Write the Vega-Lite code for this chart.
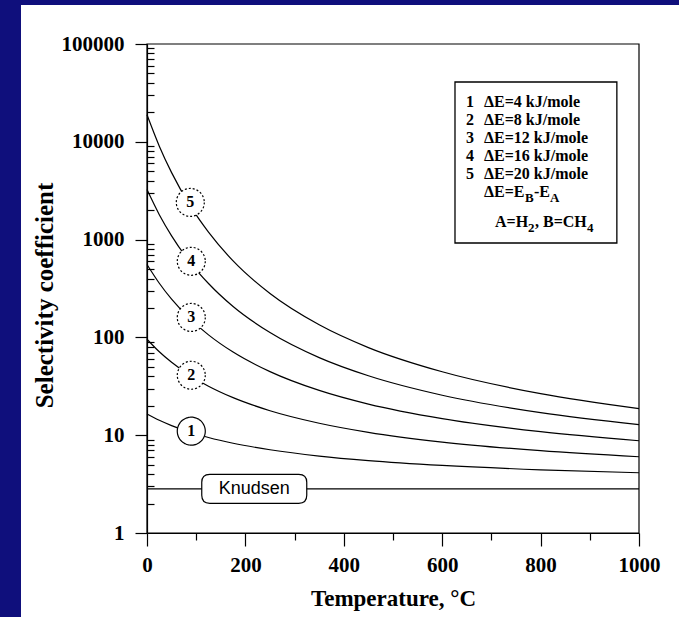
{
  "$schema": "https://vega.github.io/schema/vega-lite/v6.json",
  "width": 658,
  "height": 612,
  "autosize": "none",
  "padding": {"left": 21, "top": 5, "right": 0, "bottom": 0},
  "background": "#0f0f7c",
  "config": {
    "view": {"fill": "white", "stroke": null},
    "axis": {"domainColor": "black", "tickColor": "black", "domainWidth": 1.2, "tickWidth": 1.2, "labelColor": "black", "titleColor": "black", "grid": false, "labelFlush": false, "labelOverlap": false}
  },
  "datasets": {
    "frame": [{"x1": 0, "x2": 1000, "y1": 1, "y2": 100000}],
    "curves": [
      {"c": "1", "T": 0, "S": 16.46}, {"c": "1", "T": 25, "S": 14.2}, {"c": "1", "T": 50, "S": 12.54}, {"c": "1", "T": 88, "S": 10.72}, {"c": "1", "T": 125, "S": 9.47}, {"c": "1", "T": 175, "S": 8.27}, {"c": "1", "T": 250, "S": 7.1}, {"c": "1", "T": 350, "S": 6.12}, {"c": "1", "T": 450, "S": 5.5}, {"c": "1", "T": 600, "S": 4.91}, {"c": "1", "T": 800, "S": 4.43}, {"c": "1", "T": 1000, "S": 4.13},
      {"c": "2", "T": 0, "S": 95.8}, {"c": "2", "T": 25, "S": 71.3}, {"c": "2", "T": 50, "S": 55.6}, {"c": "2", "T": 88, "S": 40.6}, {"c": "2", "T": 125, "S": 31.7}, {"c": "2", "T": 175, "S": 24.2}, {"c": "2", "T": 250, "S": 17.8}, {"c": "2", "T": 350, "S": 13.26}, {"c": "2", "T": 450, "S": 10.7}, {"c": "2", "T": 600, "S": 8.51}, {"c": "2", "T": 800, "S": 6.94}, {"c": "2", "T": 1000, "S": 6.02},
      {"c": "3", "T": 0, "S": 557}, {"c": "3", "T": 25, "S": 358}, {"c": "3", "T": 50, "S": 246}, {"c": "3", "T": 88, "S": 153.9}, {"c": "3", "T": 125, "S": 106.2}, {"c": "3", "T": 175, "S": 70.8}, {"c": "3", "T": 250, "S": 44.7}, {"c": "3", "T": 350, "S": 28.7}, {"c": "3", "T": 450, "S": 20.8}, {"c": "3", "T": 600, "S": 14.77}, {"c": "3", "T": 800, "S": 10.86}, {"c": "3", "T": 1000, "S": 8.78},
      {"c": "4", "T": 0, "S": 3244}, {"c": "4", "T": 25, "S": 1797}, {"c": "4", "T": 50, "S": 1092}, {"c": "4", "T": 88, "S": 583}, {"c": "4", "T": 125, "S": 356}, {"c": "4", "T": 175, "S": 207}, {"c": "4", "T": 250, "S": 112.1}, {"c": "4", "T": 350, "S": 62.1}, {"c": "4", "T": 450, "S": 40.5}, {"c": "4", "T": 600, "S": 25.6}, {"c": "4", "T": 800, "S": 17.0}, {"c": "4", "T": 1000, "S": 12.82},
      {"c": "5", "T": 0, "S": 18880}, {"c": "5", "T": 25, "S": 9024}, {"c": "5", "T": 50, "S": 4840}, {"c": "5", "T": 88, "S": 2210}, {"c": "5", "T": 125, "S": 1192}, {"c": "5", "T": 175, "S": 605}, {"c": "5", "T": 250, "S": 281}, {"c": "5", "T": 350, "S": 134.5}, {"c": "5", "T": 450, "S": 78.7}, {"c": "5", "T": 600, "S": 44.5}, {"c": "5", "T": 800, "S": 26.6}, {"c": "5", "T": 1000, "S": 18.7},
      {"c": "K", "T": 0, "S": 2.83}, {"c": "K", "T": 1000, "S": 2.83}
    ],
    "labels": [
      {"n": "1", "T": 90, "S": 11, "line": "solid"},
      {"n": "2", "T": 90, "S": 41, "line": "dotted"},
      {"n": "3", "T": 90, "S": 160, "line": "dotted"},
      {"n": "4", "T": 90, "S": 600, "line": "dotted"},
      {"n": "5", "T": 88, "S": 2400, "line": "dotted"}
    ],
    "knudsen": [{"T": 218, "S": 2.83, "t": "Knudsen"}],
    "legendbox": [{"x1": 626, "x2": 955, "y1": 40880, "y2": 923}],
    "legendtext": [
      {"x": 648.4, "y": 25530, "t": "1", "k": "main"},
      {"x": 685, "y": 25530, "t": "ΔE=4 kJ/mole", "k": "main"},
      {"x": 648.4, "y": 16706, "t": "2", "k": "main"},
      {"x": 685, "y": 16706, "t": "ΔE=8 kJ/mole", "k": "main"},
      {"x": 648.4, "y": 10937, "t": "3", "k": "main"},
      {"x": 685, "y": 10937, "t": "ΔE=12 kJ/mole", "k": "main"},
      {"x": 648.4, "y": 7159, "t": "4", "k": "main"},
      {"x": 685, "y": 7159, "t": "ΔE=16 kJ/mole", "k": "main"},
      {"x": 648.4, "y": 4686, "t": "5", "k": "main"},
      {"x": 685, "y": 4686, "t": "ΔE=20 kJ/mole", "k": "main"},
      {"x": 685, "y": 3067, "t": "ΔE=E", "k": "main"},
      {"x": 768.3, "y": 2663, "t": "B", "k": "sub"},
      {"x": 786.6, "y": 3067, "t": "-E", "k": "main"},
      {"x": 819.1, "y": 2663, "t": "A", "k": "sub"},
      {"x": 707.3, "y": 1514, "t": "A=H", "k": "main"},
      {"x": 774.4, "y": 1314, "t": "2", "k": "sub"},
      {"x": 788.6, "y": 1514, "t": ", B=CH", "k": "main"},
      {"x": 894.3, "y": 1314, "t": "4", "k": "sub"}
    ]
  },
  "layer": [
    {
      "data": {"name": "curves"},
      "mark": {"type": "line", "color": "black", "strokeWidth": 1.2, "interpolate": "monotone"},
      "encoding": {
        "x": {"field": "T", "type": "quantitative", "scale": {"domain": [0, 1000], "range": [126, 618], "nice": false, "zero": false},
          "axis": {"orient": "bottom", "offset": -84, "values": [0, 200, 400, 600, 800, 1000], "format": "d", "tickSize": 13, "labelPadding": 8, "labelFont": "Liberation Serif", "labelFontWeight": "bold", "labelFontSize": 21, "title": "Temperature, °C", "titleFont": "Liberation Serif", "titleFontWeight": "bold", "titleFontSize": 23, "titlePadding": 12}},
        "y": {"field": "S", "type": "quantitative", "scale": {"type": "log", "domain": [1, 100000], "range": [528, 39], "nice": false},
          "axis": {"orient": "left", "offset": -126, "values": [1, 10, 100, 1000, 10000, 100000], "format": "d", "tickSize": 12, "labelPadding": 11, "labelFont": "Liberation Serif", "labelFontWeight": "bold", "labelFontSize": 21, "title": "Selectivity coefficient", "titleFont": "Liberation Serif", "titleFontWeight": "bold", "titleFontSize": 25, "titlePadding": 4, "titleY": 290}},
        "detail": {"field": "c"}
      }
    },
    {
      "data": {"name": "frame"},
      "mark": {"type": "rect", "fill": null, "fillOpacity": 0, "stroke": "black", "strokeWidth": 1.2},
      "encoding": {
        "x": {"field": "x1", "type": "quantitative", "axis": null},
        "x2": {"field": "x2"},
        "y": {"field": "y1", "type": "quantitative", "axis": null},
        "y2": {"field": "y2"}
      }
    },
    {
      "data": {"name": "labels"},
      "mark": {"type": "point", "shape": "circle", "filled": true, "fill": "white", "stroke": "black", "strokeWidth": 1.2, "size": 784, "opacity": 1},
      "encoding": {
        "x": {"field": "T", "type": "quantitative", "scale": {"domain": [0, 1000], "range": [126, 618], "nice": false, "zero": false},
          "axis": {"orient": "bottom", "offset": -84, "values": [100, 300, 500, 700, 900], "tickSize": 7, "labels": false, "domain": false, "title": null}},
        "y": {"field": "S", "type": "quantitative", "scale": {"type": "log", "domain": [1, 100000], "range": [528, 39], "nice": false},
          "axis": {"orient": "left", "offset": -126, "values": [2, 3, 4, 5, 6, 7, 8, 9, 20, 30, 40, 50, 60, 70, 80, 90, 200, 300, 400, 500, 600, 700, 800, 900, 2000, 3000, 4000, 5000, 6000, 7000, 8000, 9000, 20000, 30000, 40000, 50000, 60000, 70000, 80000, 90000], "tickSize": -7, "labels": false, "domain": false, "title": null}},
        "strokeDash": {"field": "line", "type": "nominal", "scale": {"domain": ["solid", "dotted"], "range": [[1, 0], [2, 2]]}, "legend": null}
      }
    },
    {
      "data": {"name": "labels"},
      "mark": {"type": "text", "font": "Liberation Serif", "fontWeight": "bold", "fontSize": 16, "color": "black", "baseline": "middle", "align": "center"},
      "encoding": {
        "x": {"field": "T", "type": "quantitative", "axis": null},
        "y": {"field": "S", "type": "quantitative", "axis": null},
        "text": {"field": "n"}
      }
    },
    {
      "data": {"name": "knudsen"},
      "mark": {"type": "point", "shape": "M-1.483,-0.483 H1.483 Q1.75,-0.483 1.75,-0.216 V0.216 Q1.75,0.483 1.483,0.483 H-1.483 Q-1.75,0.483 -1.75,0.216 V-0.216 Q-1.75,-0.483 -1.483,-0.483 Z", "filled": true, "fill": "white", "stroke": "black", "strokeWidth": 1.2, "size": 3600, "opacity": 1},
      "encoding": {
        "x": {"field": "T", "type": "quantitative", "axis": null},
        "y": {"field": "S", "type": "quantitative", "axis": null}
      }
    },
    {
      "data": {"name": "knudsen"},
      "mark": {"type": "text", "font": "Liberation Sans", "fontSize": 18, "color": "black", "baseline": "middle", "align": "center"},
      "encoding": {
        "x": {"field": "T", "type": "quantitative", "axis": null},
        "y": {"field": "S", "type": "quantitative", "axis": null},
        "text": {"field": "t"}
      }
    },
    {
      "data": {"name": "legendbox"},
      "mark": {"type": "rect", "fill": "white", "stroke": "black", "strokeWidth": 1.3},
      "encoding": {
        "x": {"field": "x1", "type": "quantitative", "axis": null},
        "x2": {"field": "x2"},
        "y": {"field": "y1", "type": "quantitative", "axis": null},
        "y2": {"field": "y2"}
      }
    },
    {
      "data": {"name": "legendtext"},
      "transform": [{"filter": "datum.k === 'main'"}],
      "mark": {"type": "text", "font": "Liberation Serif", "fontWeight": "bold", "fontSize": 16, "color": "black", "baseline": "middle", "align": "left"},
      "encoding": {
        "x": {"field": "x", "type": "quantitative", "axis": null},
        "y": {"field": "y", "type": "quantitative", "axis": null},
        "text": {"field": "t"}
      }
    },
    {
      "data": {"name": "legendtext"},
      "transform": [{"filter": "datum.k === 'sub'"}],
      "mark": {"type": "text", "font": "Liberation Serif", "fontWeight": "bold", "fontSize": 13, "color": "black", "baseline": "middle", "align": "left"},
      "encoding": {
        "x": {"field": "x", "type": "quantitative", "axis": null},
        "y": {"field": "y", "type": "quantitative", "axis": null},
        "text": {"field": "t"}
      }
    }
  ],
  "resolve": {"axis": {"x": "independent", "y": "independent"}}
}
